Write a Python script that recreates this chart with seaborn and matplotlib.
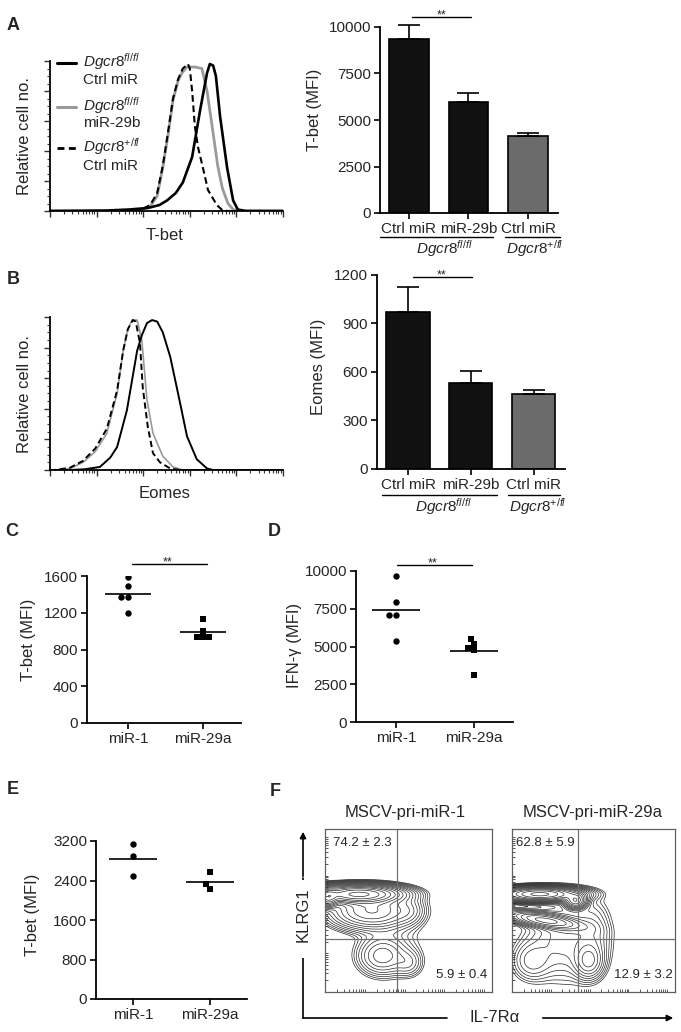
import numpy as np
import pandas as pd
import matplotlib
matplotlib.use("Agg")
import matplotlib.pyplot as plt
import seaborn as sns
from matplotlib.lines import Line2D
from matplotlib.ticker import FixedLocator, MultipleLocator, NullFormatter

# ---------------- data ----------------
# Panel A histograms (x: log10 fluorescence, y: % of max)
A_black_x = [0, 1.2, 1.7, 2.1, 2.35, 2.51, 2.7, 2.85, 3.05, 3.22, 3.37, 3.43, 3.50, 3.56, 3.65, 3.80, 3.93, 4.03, 4.2, 5.0]
A_black_y = [0, 0.3, 1, 2, 4, 7, 12, 19, 36, 67, 92, 98, 97, 90, 63, 29, 7, 1, 0, 0]
A_gray_x = [0, 1.6, 1.93, 2.15, 2.30, 2.42, 2.53, 2.64, 2.75, 2.83, 2.94, 3.11, 3.26, 3.37, 3.50, 3.60, 3.70, 3.82, 3.93, 4.08, 5.0]
A_gray_y = [0, 0, 0.5, 3, 10, 29, 50, 74, 87, 92, 96, 96, 95, 80, 52, 30, 15, 5, 1, 0, 0]
A_dash_x = [0, 1.6, 1.93, 2.15, 2.30, 2.42, 2.53, 2.64, 2.75, 2.85, 2.96, 3.00, 3.05, 3.11, 3.18, 3.28, 3.39, 3.58, 3.70, 3.82, 5.0]
A_dash_y = [0, 0, 0.5, 4, 12, 30, 52, 75, 88, 95, 98, 95, 80, 56, 42, 29, 14, 4, 0.5, 0, 0]

# Panel B histograms
B_black_x = [0, 0.43, 0.75, 1.07, 1.29, 1.44, 1.65, 1.87, 1.97, 2.08, 2.19, 2.30, 2.42, 2.58, 2.79, 2.94, 3.15, 3.37, 3.50, 5.0]
B_black_y = [0, 0, 0.5, 2, 8, 15, 39, 78, 88, 96, 98, 97, 90, 74, 44, 22, 7, 1, 0, 0]
B_gray_x = [0, 0.1, 0.43, 0.71, 0.97, 1.22, 1.44, 1.57, 1.67, 1.76, 1.87, 1.97, 2.08, 2.21, 2.42, 2.64, 2.85, 5.0]
B_gray_y = [0, 0, 1, 5, 12, 24, 50, 78, 92, 98, 98, 85, 46, 24, 9, 2, 0, 0]
B_dash_x = [0, 0.1, 0.43, 0.71, 0.97, 1.22, 1.44, 1.57, 1.67, 1.78, 1.84, 1.93, 1.99, 2.10, 2.21, 2.36, 2.58, 2.79, 5.0]
B_dash_y = [0, 0, 1.5, 6, 14, 27, 52, 78, 92, 98, 97, 83, 54, 28, 11, 5, 1, 0, 0]

legend_top = [r"$\mathit{Dgcr8}^{\mathit{fl/fl}}$", r"$\mathit{Dgcr8}^{\mathit{fl/fl}}$", r"$\mathit{Dgcr8}^{+/\mathit{fl}}$"]
legend_bottom = ["Ctrl miR", "miR-29b", "Ctrl miR"]

# Bar charts (mean, SEM)
bar_conditions = ["fl/fl Ctrl miR", "fl/fl miR-29b", "+/fl Ctrl miR"]
bar_ticklabels = ["Ctrl miR", "miR-29b", "Ctrl miR"]
group_labels = [r"$\mathit{Dgcr8}^{\mathit{fl/fl}}$", r"$\mathit{Dgcr8}^{+/\mathit{fl}}$"]
A_tbet_mean = [9375, 5946, 4143]
A_tbet_sem = [714, 483, 178]
B_eomes_mean = [969, 534, 462]
B_eomes_sem = [159, 72, 27]

# Dot plots
dot_groups = ["miR-1", "miR-29a"]
C_mir1 = [1590, 1490, 1370, 1370, 1200]
C_mir29a = [1137, 1006, 941, 934, 941]
D_mir1 = [9692, 7974, 7093, 7093, 5375]
D_mir29a = [5507, 5177, 4890, 4780, 3084]
E_mir1 = [3139, 2897, 2493]
E_mir29a = [2574, 2324, 2237]

# Panel F: density components (cx, cy, sx, sy, rho, weight) in gate-box units
F1_cx = [0.20, 0.02, 0.28, 0.50, 0.34, 0.50, 0.40]
F1_cy = [0.60, 0.58, 0.50, 0.50, 0.22, 0.18, 0.30]
F1_sx = [0.13, 0.03, 0.13, 0.05, 0.08, 0.05, 0.12]
F1_sy = [0.028, 0.03, 0.06, 0.05, 0.065, 0.05, 0.12]
F1_rho = [0, 0, 0, 0, 0, 0, 0]
F1_w = [1.0, 0.6, 0.2, 0.03, 0.06, 0.025, 0.012]
F2_cx = [0.17, 0.39, 0.20, 0.33, 0.47, 0.12, 0.50]
F2_cy = [0.60, 0.56, 0.44, 0.33, 0.19, 0.19, 0.35]
F2_sx = [0.12, 0.035, 0.12, 0.14, 0.05, 0.07, 0.06]
F2_sy = [0.022, 0.025, 0.03, 0.15, 0.06, 0.07, 0.12]
F2_rho = [0, 0, -0.6, 0, 0, 0, 0]
F2_w = [1.0, 0.45, 0.2, 0.035, 0.07, 0.03, 0.02]
F_titles = ["MSCV-pri-miR-1", "MSCV-pri-miR-29a"]
F_upper = ["74.2 ± 2.3", "62.8 ± 5.9"]
F_lower = ["5.9 ± 0.4", "12.9 ± 3.2"]

# ---------------- style ----------------
sns.set_theme(style="ticks")
plt.rcParams["font.family"] = ["Liberation Sans", "DejaVu Sans"]
plt.rcParams["mathtext.fontset"] = "custom"
plt.rcParams["mathtext.rm"] = "Liberation Sans"
plt.rcParams["mathtext.it"] = "Liberation Sans:italic"
plt.rcParams["axes.linewidth"] = 1.3
plt.rcParams["axes.edgecolor"] = "black"

W, H, DPI = 681, 1032, 100
fig = plt.figure(figsize=(W / DPI, H / DPI), dpi=DPI)
fig.patch.set_facecolor("white")


def box(l, t, r, b):
    a = fig.add_axes([l / W, 1 - b / H, (r - l) / W, (b - t) / H])
    a.set_facecolor("none")
    return a


def ftext(x, y, s, **kw):
    fig.text(x / W, 1 - y / H, s, **kw)


def fline(xs, ys, **kw):
    fig.add_artist(Line2D([x / W for x in xs], [1 - y / H for y in ys], transform=fig.transFigure, **kw))


# ---------------- histograms ----------------
def hist_panel(ax, curves, lws):
    (gx, gy), (dx, dy), (bx, by) = curves
    sns.lineplot(x=gx, y=gy, ax=ax, color="#9a9a9a", lw=lws[0], sort=False, estimator=None)
    sns.lineplot(x=dx, y=dy, ax=ax, color="black", lw=lws[1], sort=False, estimator=None, linestyle=(0, (3.2, 1.8)))
    sns.lineplot(x=bx, y=by, ax=ax, color="black", lw=lws[2], sort=False, estimator=None)
    ax.set_xlim(0, 5)
    ax.set_ylim(0, 100)
    sns.despine(ax=ax)
    ax.yaxis.set_major_locator(MultipleLocator(20))
    ax.yaxis.set_minor_locator(MultipleLocator(5))
    majors = list(range(0, 6))
    minors = [d + np.log10(k) for d in range(5) for k in range(2, 10)]
    ax.xaxis.set_major_locator(FixedLocator(majors))
    ax.xaxis.set_minor_locator(FixedLocator(minors))
    ax.xaxis.set_major_formatter(NullFormatter())
    ax.yaxis.set_major_formatter(NullFormatter())
    ax.tick_params(which="major", length=4, width=1.0, color="#333")
    ax.tick_params(which="minor", length=2, width=0.8, color="#333")
    ax.set_xlabel("")
    ax.set_ylabel("")


axA = box(50, 61, 283, 211)
hist_panel(axA, [(A_gray_x, A_gray_y), (A_dash_x, A_dash_y), (A_black_x, A_black_y)], (2.0, 1.5, 1.9))
ftext(25, 136, "Relative cell no.", rotation=90, ha="center", va="center", fontsize=12)
ftext(165, 236, "T-bet", ha="center", va="center", fontsize=12)

# manual legend
leg_rows = [(63, 80), (107, 123), (148, 166)]
leg_styles = [dict(color="black", lw=2.2), dict(color="#9a9a9a", lw=2.2), dict(color="black", lw=2.0, linestyle=(0, (2.5, 1.6)))]
for (y1, y2), top, bottom, st in zip(leg_rows, legend_top, legend_bottom, leg_styles):
    fline([57, 76], [y1, y1], **st)
    ftext(83, y1 - 1, top, ha="left", va="center", fontsize=11)
    ftext(83, y2, bottom, ha="left", va="center", fontsize=11)

axB = box(50, 317, 283, 470)
hist_panel(axB, [(B_gray_x, B_gray_y), (B_dash_x, B_dash_y), (B_black_x, B_black_y)], (1.2, 1.4, 1.4))
ftext(25, 394, "Relative cell no.", rotation=90, ha="center", va="center", fontsize=12)
ftext(165, 494, "Eomes", ha="center", va="center", fontsize=12)


# ---------------- bar charts ----------------
def bar_panel(ax, means, sems, ymax, step, width, xlim):
    df = pd.DataFrame({"cond": bar_conditions, "mfi": means})
    sns.barplot(data=df, x="cond", y="mfi", hue="cond", order=bar_conditions, hue_order=bar_conditions,
                palette=["#111111", "#111111", "#6b6b6b"], width=width, edgecolor="black",
                linewidth=1.2, legend=False, errorbar=None, ax=ax)
    ax.errorbar(range(len(means)), means, yerr=[np.zeros(len(sems)), sems], fmt="none", ecolor="black",
                elinewidth=1.2, capsize=8, capthick=1.2, clip_on=False, zorder=1)
    ax.set_ylim(0, ymax)
    ax.set_xlim(*xlim)
    ax.set_yticks(np.arange(0, ymax + 1, step))
    ax.set_xticks(range(len(means)))
    ax.set_xticklabels(bar_ticklabels)
    sns.despine(ax=ax)
    ax.tick_params(length=4, width=1.2, labelsize=11, pad=2.5, color="black")
    ax.set_xlabel("")
    ax.set_ylabel("")


axA2 = box(380, 27, 558, 213)
bar_panel(axA2, A_tbet_mean, A_tbet_sem, 10000, 2500, 0.67, (-0.487, 2.504))
ftext(315, 110, "T-bet (MFI)", rotation=90, ha="center", va="center", fontsize=12)
fline([380, 493], [237, 237], color="black", lw=1.0)
fline([505, 560], [237, 237], color="black", lw=1.0)
ftext(444, 249, group_labels[0], ha="center", va="center", fontsize=11)
ftext(535, 249, group_labels[1], ha="center", va="center", fontsize=11)
fline([412, 471], [17, 17], color="black", lw=1.0)
ftext(442, 18, "**", ha="center", va="baseline", fontsize=9)

axB2 = box(377, 275, 565, 469)
bar_panel(axB2, B_eomes_mean, B_eomes_sem, 1200, 300, 0.69, (-0.494, 2.50))
ftext(318, 367, "Eomes (MFI)", rotation=90, ha="center", va="center", fontsize=12)
fline([382, 497], [495, 495], color="black", lw=1.0)
fline([508, 560], [495, 495], color="black", lw=1.0)
ftext(443, 507, group_labels[0], ha="center", va="center", fontsize=11)
ftext(538, 507, group_labels[1], ha="center", va="center", fontsize=11)
fline([413, 472], [277, 277], color="black", lw=1.0)
ftext(442, 278, "**", ha="center", va="baseline", fontsize=9)


# ---------------- dot plots ----------------
def dot_panel(ax, a, b, ymax, step, xlim):
    for i, (vals, mk, sz) in enumerate([(a, "o", 4.6), (b, "s", 4.2)]):
        sns.swarmplot(x=[dot_groups[i]] * len(vals), y=vals, order=dot_groups, marker=mk, color="black",
                      size=sz, linewidth=0, ax=ax)
        ax.hlines(np.mean(vals), i - 0.31, i + 0.31, color="black", lw=1.2, zorder=3)
    ax.set_ylim(0, ymax)
    ax.set_xlim(*xlim)
    ax.set_yticks(np.arange(0, ymax + 1, step))
    sns.despine(ax=ax)
    ax.tick_params(length=4, width=1.2, labelsize=11, pad=2.5, color="black")
    ax.set_xlabel("")
    ax.set_ylabel("")


axC = box(87, 576, 241, 723)
dot_panel(axC, C_mir1, C_mir29a, 1600, 400, (-0.547, 1.507))
ftext(28, 640, "T-bet (MFI)", rotation=90, ha="center", va="center", fontsize=12)
fline([132, 207], [564, 564], color="black", lw=1.0)
ftext(168, 565, "**", ha="center", va="baseline", fontsize=9)

axD = box(356, 571, 513, 722)
dot_panel(axD, D_mir1, D_mir29a, 10000, 2500, (-0.513, 1.50))
ftext(295, 645, "IFN-γ (MFI)", rotation=90, ha="center", va="center", fontsize=12)
fline([397, 472], [565, 565], color="black", lw=1.0)
ftext(433, 566, "**", ha="center", va="baseline", fontsize=9)

axE = box(96, 841, 247, 999)
dot_panel(axE, E_mir1, E_mir29a, 3200, 800, (-0.48, 1.48))
ftext(33, 915, "T-bet (MFI)", rotation=90, ha="center", va="center", fontsize=12)


# ---------------- contour plots ----------------
def density(cx, cy, sx, sy, rho, w, X, Y):
    Z = np.zeros_like(X)
    for a, b, s1, s2, r, k in zip(cx, cy, sx, sy, rho, w):
        u = (X - a) / s1
        v = (Y - b) / s2
        Z += k * np.exp(-(u * u - 2 * r * u * v + v * v) / (2 * (1 - r * r)))
    return Z


def flow_panel(ax, comps, qx, qy):
    gx = np.linspace(-0.15, 1.05, 400)
    gy = np.linspace(-0.05, 1.05, 400)
    X, Y = np.meshgrid(gx, gy)
    Z = density(*comps, X, Y)
    levels = Z.max() * np.geomspace(0.006, 0.9, 17)
    ax.contour(X, Y, Z, levels=levels, colors="#2a2a2a", linewidths=0.5)
    ax.set_xlim(0, 1)
    ax.set_ylim(0, 1)
    ax.axvline(qx, color="#707070", lw=0.9)
    ax.axhline(qy, color="#707070", lw=0.9)
    for sp in ax.spines.values():
        sp.set_color("#606060")
        sp.set_linewidth(0.9)
    minors = [(d + np.log10(k)) / 4.2 for d in range(5) for k in range(1, 10) if (d + np.log10(k)) / 4.2 <= 1]
    ax.xaxis.set_major_locator(FixedLocator(minors))
    ax.yaxis.set_major_locator(FixedLocator(minors))
    ax.xaxis.set_major_formatter(NullFormatter())
    ax.yaxis.set_major_formatter(NullFormatter())
    ax.tick_params(direction="in", length=2.5, width=0.7, color="#555")


axF1 = box(325, 829, 492, 992)
flow_panel(axF1, (F1_cx, F1_cy, F1_sx, F1_sy, F1_rho, F1_w), 0.43, 0.325)
axF2 = box(512, 829, 675, 992)
flow_panel(axF2, (F2_cx, F2_cy, F2_sx, F2_sy, F2_rho, F2_w), 0.405, 0.325)

ftext(405, 813, F_titles[0], ha="center", va="center", fontsize=12)
ftext(593, 813, F_titles[1], ha="center", va="center", fontsize=12)
ftext(333, 843, F_upper[0], ha="left", va="center", fontsize=9.5)
ftext(516, 843, F_upper[1], ha="left", va="center", fontsize=9.5)
ftext(487, 975, F_lower[0], ha="right", va="center", fontsize=9.5)
ftext(673, 975, F_lower[1], ha="right", va="center", fontsize=9.5)

# axis arrows for F
fline([303, 303], [878, 1018], color="black", lw=1.2)
fline([303, 447], [1018, 1018], color="black", lw=1.2)
fig.patches.append(matplotlib.patches.Rectangle((300 / W, 1 - 958 / H), 6 / W, 78 / H, transform=fig.transFigure,
                                                 facecolor="white", edgecolor="none", zorder=2))
ftext(303, 915, "KLRG1", rotation=90, ha="center", va="center", fontsize=12, zorder=3)
fig.add_artist(matplotlib.patches.FancyArrowPatch((303 / W, 1 - 879 / H), (303 / W, 1 - 829 / H),
                                                  transform=fig.transFigure, arrowstyle="-|>",
                                                  mutation_scale=9, lw=1.2, color="black"))
ftext(495, 1018, "IL-7Rα", ha="center", va="center", fontsize=12)
fig.add_artist(matplotlib.patches.FancyArrowPatch((540 / W, 1 - 1018 / H), (676 / W, 1 - 1018 / H),
                                                  transform=fig.transFigure, arrowstyle="-|>",
                                                  mutation_scale=9, lw=1.2, color="black"))

# panel letters
for lab, x, y in [("A", 13, 25), ("B", 13, 280), ("C", 12, 531), ("D", 274, 532), ("E", 13, 790), ("F", 275, 791)]:
    ftext(x, y, lab, ha="center", va="center", fontsize=13, fontweight="bold")

fig.savefig("out.png", dpi=DPI, facecolor="white")
